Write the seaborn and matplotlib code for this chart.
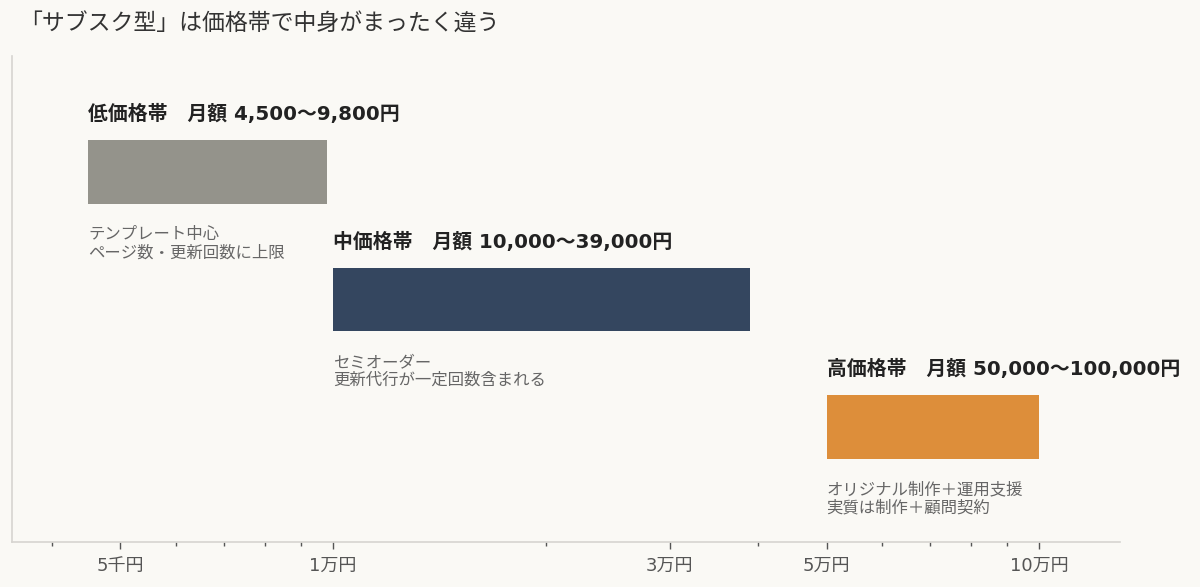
import matplotlib
matplotlib.use("Agg")
import matplotlib.pyplot as plt
import matplotlib.ticker as mticker
import seaborn as sns
import pandas as pd

# ---- data ----
tiers = ["低価格帯", "中価格帯", "高価格帯"]
price_low = [4500, 10000, 50000]
price_high = [9800, 39000, 100000]
range_labels = ["月額 4,500〜9,800円", "月額 10,000〜39,000円", "月額 50,000〜100,000円"]
descriptions = [
    "テンプレート中心\nページ数・更新回数に上限",
    "セミオーダー\n更新代行が一定回数含まれる",
    "オリジナル制作＋運用支援\n実質は制作＋顧問契約",
]
bar_colors = ["#94938b", "#34465f", "#dd8e3a"]
major_ticks = [5000, 10000, 30000, 50000, 100000]
major_tick_labels = ["5千円", "1万円", "3万円", "5万円", "10万円"]
minor_ticks = [4000, 6000, 7000, 8000, 9000, 20000, 40000, 60000, 70000, 80000, 90000]
chart_title = "「サブスク型」は価格帯で中身がまったく違う"

df = pd.DataFrame({"tier": tiers, "low": price_low, "high": price_high,
                   "range": range_labels, "desc": descriptions})

BG = "#faf9f5"
sns.set_theme(style="white")
plt.rcParams["font.family"] = ["Noto Sans CJK JP", "DejaVu Sans"]
MIXED = ["DejaVu Sans", "Noto Sans CJK JP"]

fig = plt.figure(figsize=(12, 5.87), dpi=100, facecolor=BG)
ax = fig.add_axes([0.0104, 0.0767, 0.9226, 0.828])
ax.set_facecolor(BG)

ypos = list(range(len(df)))
ax.barh(ypos, df["high"] - df["low"], left=df["low"], height=0.5,
        color=bar_colors, edgecolor="none")

ax.set_xscale("log")
ax.set_xlim(3516, 130000)
ax.set_ylim(2.9, -0.91)

for i, row in df.iterrows():
    ax.text(row["low"], i - 0.455, f"{row['tier']}　{row['range']}",
            ha="left", va="center", fontsize=14.3, fontweight="bold", color="#222222",
            family=MIXED)
    ax.text(row["low"], i + 0.425, row["desc"], ha="left", va="top",
            fontsize=11.8, color="#666666", linespacing=1.1)

ax.xaxis.set_major_locator(mticker.FixedLocator(major_ticks))
ax.xaxis.set_major_formatter(mticker.FixedFormatter(major_tick_labels))
ax.xaxis.set_minor_locator(mticker.FixedLocator(minor_ticks))
ax.xaxis.set_minor_formatter(mticker.NullFormatter())
ax.tick_params(axis="x", which="major", length=5, width=1, color="#555555",
               labelsize=13, labelcolor="#555555", pad=5.5, direction="out", bottom=True)
ax.tick_params(axis="x", which="minor", length=3, width=1, color="#555555",
               direction="out", bottom=True)
for lbl in ax.get_xticklabels():
    lbl.set_family(MIXED)
ax.set_yticks([])
ax.set_xlabel("")
ax.set_ylabel("")

for s in ["top", "right"]:
    ax.spines[s].set_visible(False)
for s in ["left", "bottom"]:
    ax.spines[s].set_visible(True)
    ax.spines[s].set_color("#d6d4d0")
    ax.spines[s].set_linewidth(1.2)

fig.text(19 / 1200, 1 - 24 / 587, chart_title, ha="left", va="center",
         fontsize=16.5, color="#333333")

fig.savefig("out.png", dpi=100, facecolor=BG)
